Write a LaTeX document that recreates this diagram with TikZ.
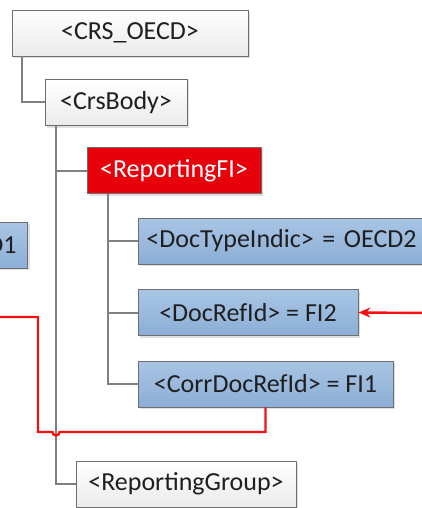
\documentclass[tikz,border=0pt]{standalone}
\usepackage{fontspec}
\setmainfont{Carlito}
\usetikzlibrary{arrows.meta,shadows}
\definecolor{boxline}{HTML}{6E6E6E}
\definecolor{linkgray}{HTML}{808080}
\definecolor{bluetop}{HTML}{A8C5E4}
\definecolor{bluebot}{HTML}{8CAED6}
\definecolor{redfill}{HTML}{E8000A}
\definecolor{redline}{HTML}{F21010}
\begin{document}
\begin{tikzpicture}[x=1pt,y=-1pt,
  elem/.style={draw=boxline,line width=0.9pt,minimum height=46pt,inner sep=0pt,
    font=\fontsize{26}{30}\selectfont,text=black!88,
    drop shadow={shadow xshift=2pt,shadow yshift=-2pt,opacity=0.25}},
  plain/.style={elem,top color=white,bottom color=black!8},
  blue/.style={elem,top color=bluetop,bottom color=bluebot},
  hot/.style={elem,fill=redfill,text=white},
  link/.style={draw=linkgray,line width=2pt},
  redlink/.style={draw=redline,line width=2.4pt}]
\useasboundingbox(0,0)rectangle(422,508);
\clip(0,0)rectangle(422,508);
%boxes
\node[plain,minimum width=236pt](oecd)at(130,33){<CRS\_OECD>};
\node[plain,minimum width=142pt](body)at(116,102.5){<CrsBody>};
\node[hot,minimum width=174pt](rfi)at(174,170.5){<ReportingFI>};
\node[blue,anchor=west,inner xsep=8pt,text width=284pt,align=left](typeind)at(138,241){<DocTypeIndic> = OECD2};
\node[blue,minimum width=220pt](refid)at(248,312.5){<DocRefId> = FI2};
\node[blue,minimum width=255pt](corr)at(265.5,384){<CorrDocRefId> = FI1};
\node[plain,minimum width=220pt](group)at(186,484){<ReportingGroup>};
\node[blue,anchor=east,inner xsep=11pt](prev)at(28,245){= OECD1};
%tree
\draw[link]([xshift=10pt]oecd.south west)|-(body.west);
\draw[link]([xshift=11pt]body.south west)|-(rfi.west);
\draw[link]([xshift=11pt]body.south west)|-(group.west);
\foreach \n in {typeind,refid,corr}{\draw[link]([xshift=21pt]rfi.south west)|-(\n.west);}
%correction
\coordinate(out)at(-5,317);
\coordinate(in)at(430,313);
\draw[redlink](out)--(38,317)--(38,432)--(52.5,432)arc(180:0:3.5)--(corr.south|-0,432)--(corr.south);
\draw[redlink,-{Stealth[length=12pt,width=10pt]}](in)--(refid.east);
\end{tikzpicture}
\end{document}
